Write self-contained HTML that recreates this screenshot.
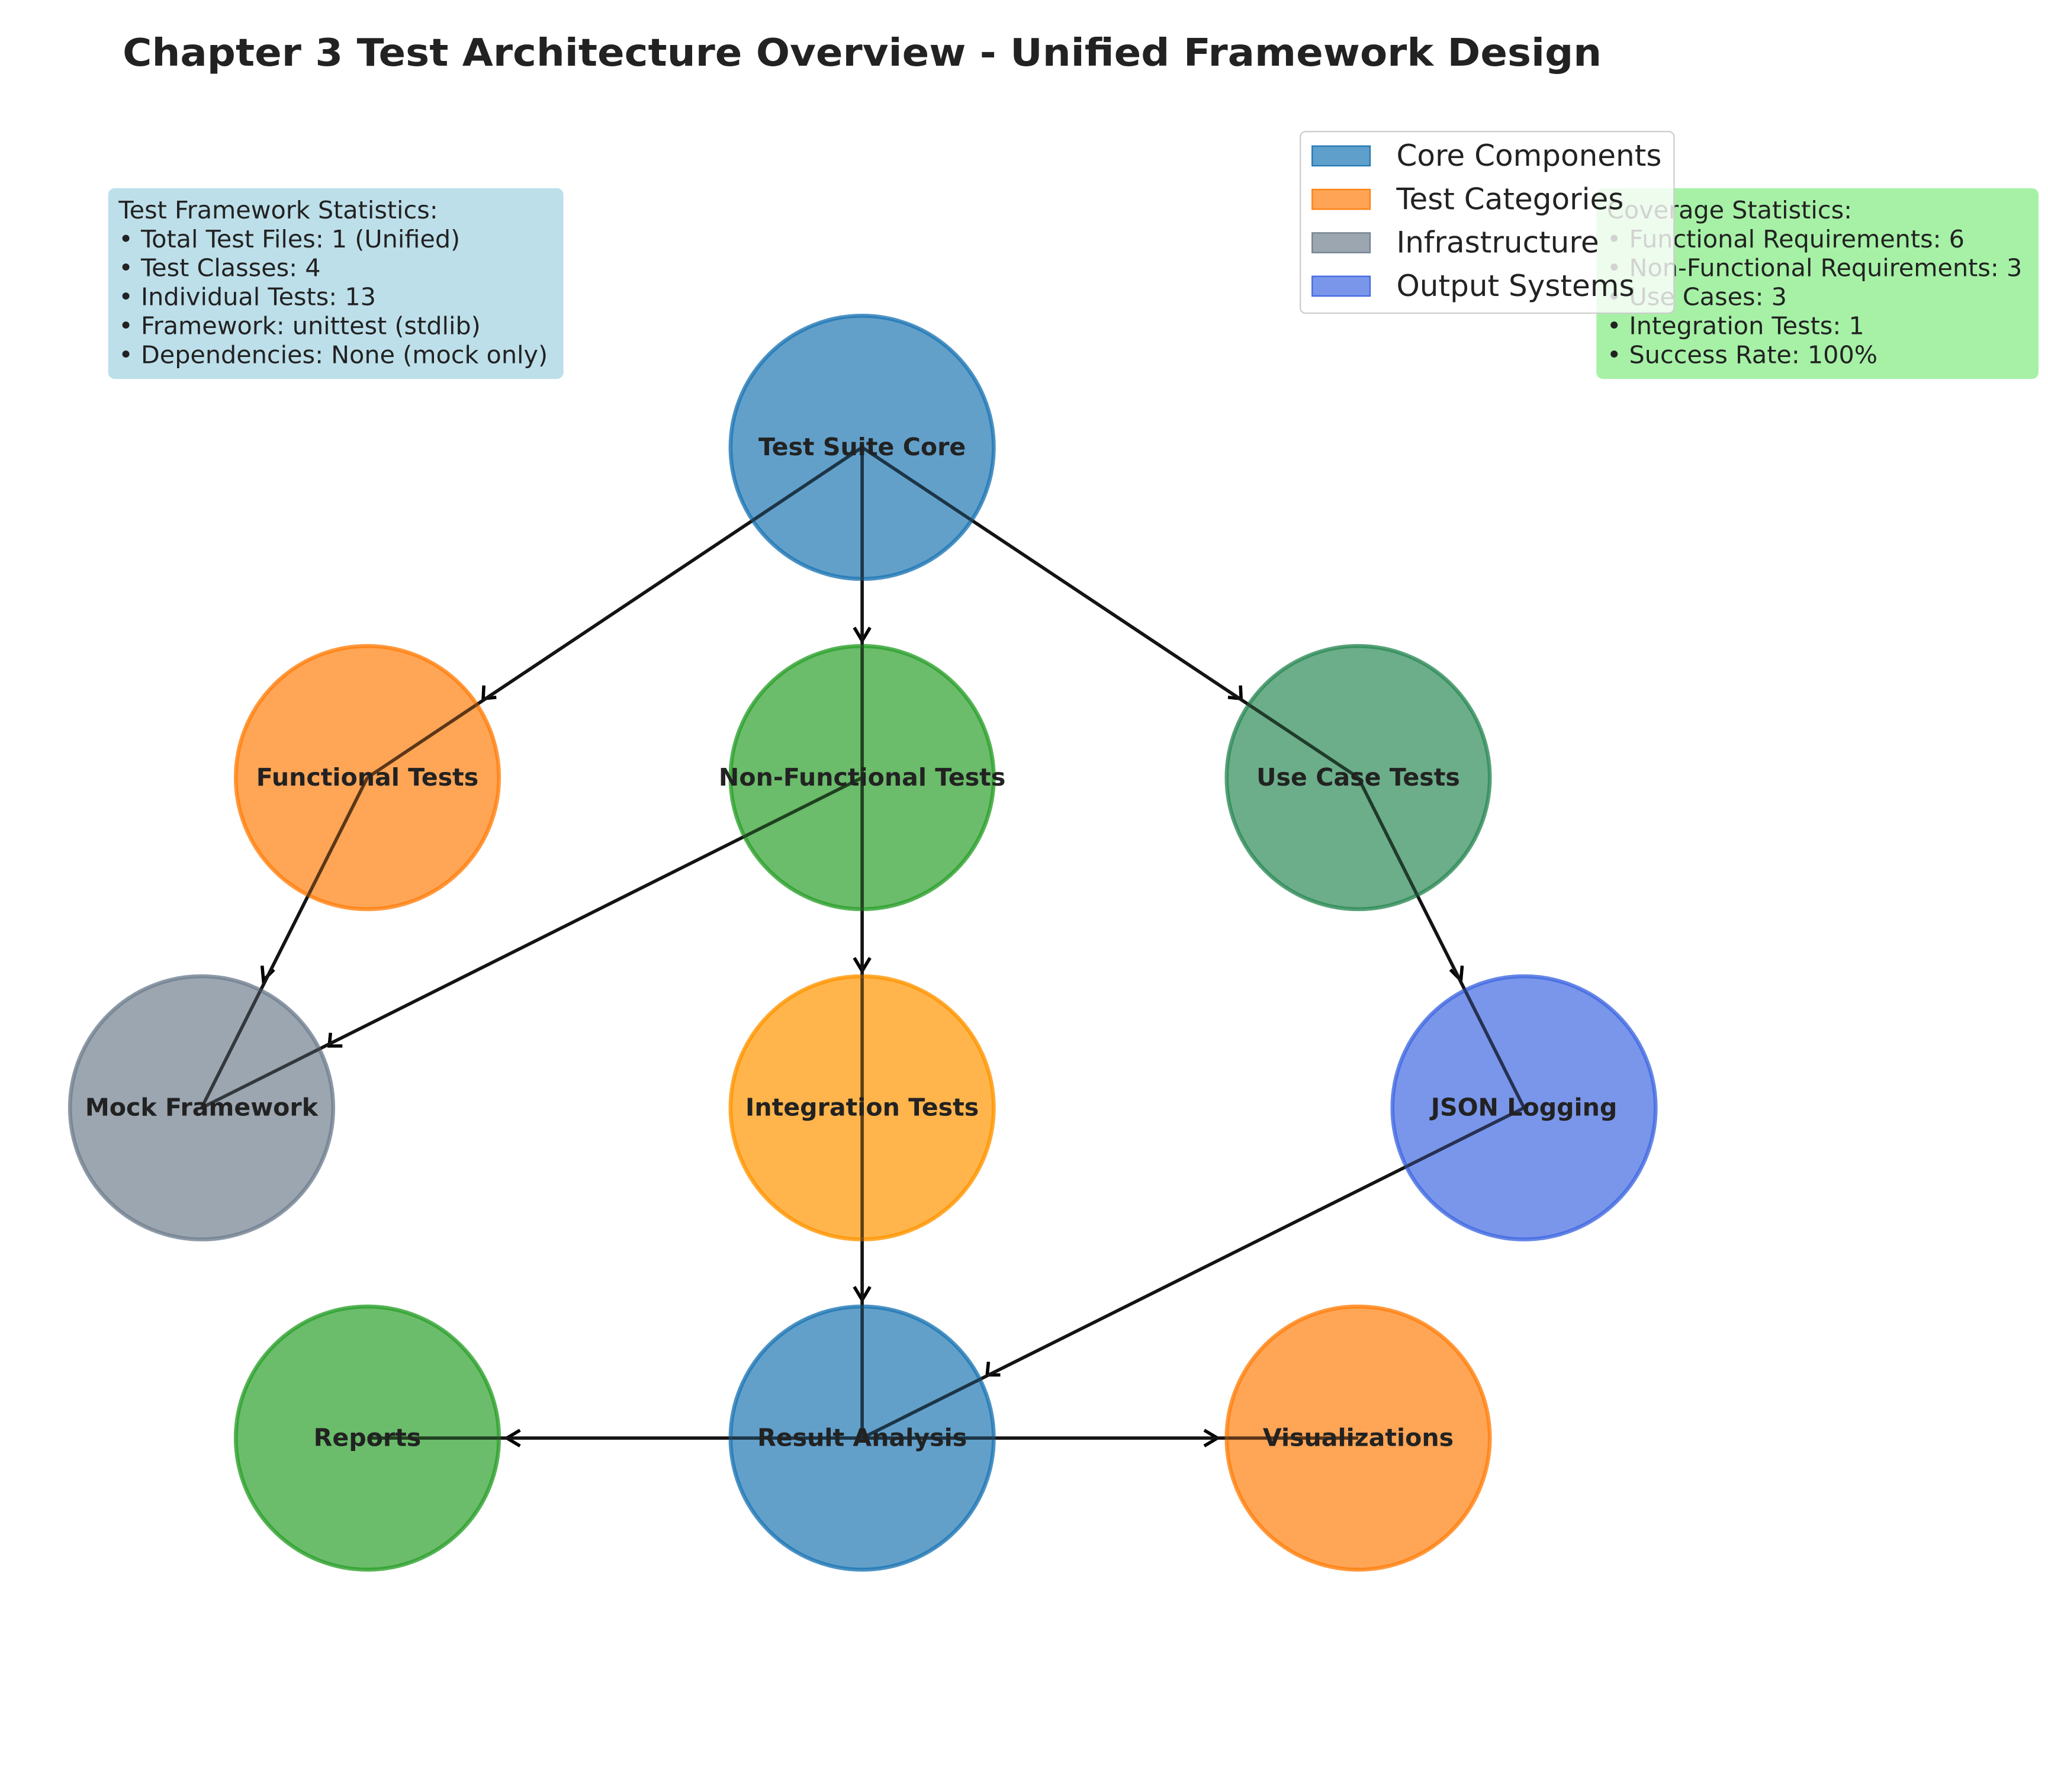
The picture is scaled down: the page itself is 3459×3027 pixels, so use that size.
<!DOCTYPE html>
<html><head><meta charset="utf-8"><style>
html,body{margin:0;padding:0;background:#fff;}
svg{display:block;}
text{font-family:"DejaVu Sans","Liberation Sans",sans-serif;}
</style></head><body>
<svg width="3459" height="3027" viewBox="0 0 1556 1362" xmlns="http://www.w3.org/2000/svg">
<rect width="1556" height="1362" fill="#fff"/>
<text x="93" y="50" font-weight="bold" fill="#222" textLength="1124" lengthAdjust="spacingAndGlyphs" style="font-size:29px">Chapter 3 Test Architecture Overview - Unified Framework Design</text>

<rect x="82" y="143" width="346" height="145" rx="5" fill="#bddfea"/>
<g font-size="18.6" fill="#222">
<text x="90" y="166">Test Framework Statistics:</text>
<text x="90" y="188">• Total Test Files: 1 (Unified)</text>
<text x="90" y="210">• Test Classes: 4</text>
<text x="90" y="232">• Individual Tests: 13</text>
<text x="90" y="254">• Framework: unittest (stdlib)</text>
<text x="90" y="276">• Dependencies: None (mock only)</text>
</g>
<rect x="1213" y="143" width="336" height="145" rx="5" fill="#a6f1a6"/>
<g font-size="18.6" fill="#222">
<text x="1221" y="166">Coverage Statistics:</text>
<text x="1221" y="188">• Functional Requirements: 6</text>
<text x="1221" y="210">• Non-Functional Requirements: 3</text>
<text x="1221" y="232">• Use Cases: 3</text>
<text x="1221" y="254">• Integration Tests: 1</text>
<text x="1221" y="276">• Success Rate: 100%</text>
</g>

<rect x="988" y="100" width="284" height="138" rx="4" fill="#fff" fill-opacity="0.8" stroke="#ccc" stroke-width="1"/>
<g font-size="22.5" fill="#222">
<rect x="997" y="111" width="44" height="15" fill="#5f9fcb" stroke="#1f77b4"/><text x="1061" y="126">Core Components</text>
<rect x="997" y="144" width="44" height="15" fill="#ffa454" stroke="#ff7f0e"/><text x="1061" y="159">Test Categories</text>
<rect x="997" y="177" width="44" height="15" fill="#9ba6b1" stroke="#708090"/><text x="1061" y="192">Infrastructure</text>
<rect x="997" y="210" width="44" height="15" fill="#7a96ea" stroke="#4169e1"/><text x="1061" y="225">Output Systems</text>
</g>

<g stroke="#000" stroke-width="2.5" fill="none">
<line x1="655" y1="340" x2="279" y2="591"/>
<line x1="655" y1="340" x2="655" y2="591"/>
<line x1="655" y1="340" x2="1032" y2="591"/>
<line x1="279" y1="591" x2="153" y2="842"/>
<line x1="655" y1="591" x2="153" y2="842"/>
<line x1="655" y1="591" x2="655" y2="842"/>
<line x1="1032" y1="591" x2="1158" y2="842"/>
<line x1="655" y1="842" x2="655" y2="1093"/>
<line x1="1158" y1="842" x2="655" y2="1093"/>
<line x1="655" y1="1093" x2="279" y2="1093"/>
<line x1="655" y1="1093" x2="1032" y2="1093"/>
<polyline points="367.5,521 367,531 377,530"/>
<polyline points="649,477 655,487 661,477"/>
<polyline points="933,530 943,531 942.5,521"/>
<polyline points="199,734 200,745 208,737"/>
<polyline points="251,785 250,795 260,795"/>
<polyline points="649,728 655,738 661,728"/>
<polyline points="1102,737 1110,745 1111,734"/>
<polyline points="649,978 655,988 661,978"/>
<polyline points="751,1035 750,1045 760,1045"/>
<polyline points="395,1087 385,1093 395,1099"/>
<polyline points="915,1087 925,1093 915,1099"/>
</g>

<g stroke-width="3">
<circle cx="655" cy="340" r="100" fill="#1f77b4" fill-opacity="0.7" stroke="#1f77b4" stroke-opacity="0.8"/>
<circle cx="279" cy="591" r="100" fill="#ff7f0e" fill-opacity="0.7" stroke="#ff7f0e" stroke-opacity="0.8"/>
<circle cx="655" cy="591" r="100" fill="#2ca02c" fill-opacity="0.7" stroke="#2ca02c" stroke-opacity="0.8"/>
<circle cx="1032" cy="591" r="100" fill="#2e8b57" fill-opacity="0.7" stroke="#2e8b57" stroke-opacity="0.8"/>
<circle cx="153" cy="842" r="100" fill="#708090" fill-opacity="0.7" stroke="#708090" stroke-opacity="0.8"/>
<circle cx="655" cy="842" r="100" fill="#ff9500" fill-opacity="0.7" stroke="#ff9500" stroke-opacity="0.8"/>
<circle cx="1158" cy="842" r="100" fill="#4169e1" fill-opacity="0.7" stroke="#4169e1" stroke-opacity="0.8"/>
<circle cx="279" cy="1093" r="100" fill="#2ca02c" fill-opacity="0.7" stroke="#2ca02c" stroke-opacity="0.8"/>
<circle cx="655" cy="1093" r="100" fill="#1f77b4" fill-opacity="0.7" stroke="#1f77b4" stroke-opacity="0.8"/>
<circle cx="1032" cy="1093" r="100" fill="#ff7f0e" fill-opacity="0.7" stroke="#ff7f0e" stroke-opacity="0.8"/>
</g>
<g stroke="#222" stroke-width="2.5" stroke-opacity="0.6" fill="none">
<line x1="655" y1="340" x2="279" y2="591"/>
<line x1="655" y1="340" x2="655" y2="591"/>
<line x1="655" y1="340" x2="1032" y2="591"/>
<line x1="279" y1="591" x2="153" y2="842"/>
<line x1="655" y1="591" x2="153" y2="842"/>
<line x1="655" y1="591" x2="655" y2="842"/>
<line x1="1032" y1="591" x2="1158" y2="842"/>
<line x1="655" y1="842" x2="655" y2="1093"/>
<line x1="1158" y1="842" x2="655" y2="1093"/>
<line x1="655" y1="1093" x2="279" y2="1093"/>
<line x1="655" y1="1093" x2="1032" y2="1093"/>
</g>

<g font-size="18.5" font-weight="bold" fill="#222" text-anchor="middle">
<text x="655" y="346">Test Suite Core</text>
<text x="279" y="597">Functional Tests</text>
<text x="655" y="597">Non-Functional Tests</text>
<text x="1032" y="597">Use Case Tests</text>
<text x="153" y="848">Mock Framework</text>
<text x="655" y="848">Integration Tests</text>
<text x="1158" y="848">JSON Logging</text>
<text x="279" y="1099">Reports</text>
<text x="655" y="1099">Result Analysis</text>
<text x="1032" y="1099">Visualizations</text>
</g>
</svg>
</body></html>
